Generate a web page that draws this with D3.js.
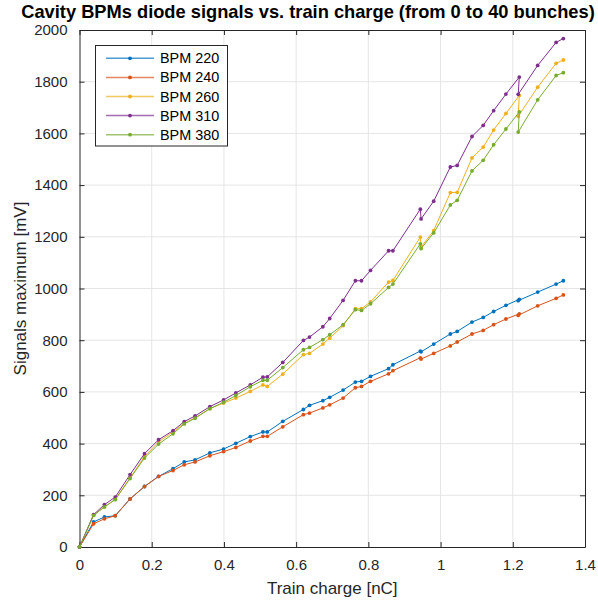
<!DOCTYPE html>
<html>
<head>
<meta charset="utf-8">
<script src="https://cdn.jsdelivr.net/npm/d3@7"></script>
<style>
  html, body { margin: 0; padding: 0; background: #fff; }
  svg { display: block; font-family: "Liberation Sans", Arial, Helvetica, sans-serif; }
</style>
</head>
<body>
<svg id="chart" width="598" height="603"></svg>
<script>
// ---- data ----
const charge = [0, 0.039, 0.069, 0.099, 0.140, 0.180, 0.219, 0.259, 0.290, 0.320, 0.361, 0.399, 0.433, 0.473, 0.508, 0.520, 0.563, 0.620, 0.637, 0.674, 0.693, 0.730, 0.764, 0.781, 0.806, 0.856, 0.868, 0.944, 0.946, 0.981, 1.027, 1.046, 1.087, 1.118, 1.147, 1.181, 1.218, 1.215, 1.269, 1.320, 1.340];
const bpm220 = [0, 97, 116, 121, 186, 234, 273, 303, 329, 337, 364, 379, 401, 427, 445, 445, 486, 532, 548, 566, 579, 607, 638, 641, 660, 690, 705, 758, 755, 785, 824, 834, 870, 888, 911, 935, 958, 953, 986, 1017, 1030];
const bpm240 = [0, 90, 109, 121, 186, 234, 273, 296, 318, 329, 353, 369, 385, 410, 428, 428, 465, 512, 518, 538, 550, 576, 616, 621, 641, 670, 682, 732, 727, 749, 778, 793, 824, 838, 860, 882, 902, 896, 933, 962, 975];
const bpm260 = [0, 125, 155, 185, 267, 350, 407, 445, 478, 500, 535, 557, 576, 602, 627, 621, 669, 744, 749, 785, 808, 856, 922, 922, 948, 1025, 1031, 1199, 1160, 1224, 1371, 1372, 1505, 1547, 1613, 1677, 1747, 1666, 1779, 1871, 1884];
const bpm310 = [0, 125, 164, 193, 280, 361, 415, 450, 485, 507, 543, 569, 596, 627, 657, 658, 714, 799, 812, 852, 884, 954, 1030, 1030, 1070, 1146, 1146, 1307, 1269, 1338, 1470, 1476, 1588, 1631, 1688, 1752, 1818, 1751, 1863, 1952, 1967];
const bpm380 = [0, 122, 155, 183, 265, 344, 398, 438, 476, 498, 535, 560, 586, 620, 645, 645, 694, 763, 772, 802, 821, 860, 918, 915, 941, 1004, 1017, 1173, 1154, 1215, 1323, 1341, 1455, 1496, 1556, 1617, 1683, 1605, 1730, 1824, 1835];
const seriesNames = ["BPM 220", "BPM 240", "BPM 260", "BPM 310", "BPM 380"];
const seriesColors = ["#0072BD", "#D95319", "#EDB120", "#7E2F8E", "#77AC30"];
const xTicks = [0, 0.2, 0.4, 0.6, 0.8, 1, 1.2, 1.4];
const yTicks = [0, 200, 400, 600, 800, 1000, 1200, 1400, 1600, 1800, 2000];
const titleText = "Cavity BPMs diode signals vs. train charge (from 0 to 40 bunches)";
const xLabel = "Train charge [nC]";
const yLabel = "Signals maximum [mV]";

const seriesValues = [bpm220, bpm240, bpm260, bpm310, bpm380];

// ---- layout ----
const L = 79.5, R = 585, T = 30, B = 547;
const svg = d3.select("#chart");
const x = d3.scaleLinear().domain([0, 1.4]).range([L, R]);
const y = d3.scaleLinear().domain([0, 2000]).range([B, T]);
const axisColor = "#262626";

// grid
const grid = svg.append("g");
grid.selectAll("line.gx").data(xTicks.slice(1, -1)).enter().append("line")
  .attr("x1", d => x(d)).attr("x2", d => x(d)).attr("y1", T).attr("y2", B)
  .attr("stroke", "#e5e5e5").attr("stroke-width", 1);
grid.selectAll("line.gy").data(yTicks.slice(1, -1)).enter().append("line")
  .attr("y1", d => y(d)).attr("y2", d => y(d)).attr("x1", L).attr("x2", R)
  .attr("stroke", "#e5e5e5").attr("stroke-width", 1);

// axes with inward ticks
function styleAxis(g) {
  g.selectAll("path.domain").attr("stroke", axisColor).attr("stroke-width", 1);
  g.selectAll(".tick line").attr("stroke", axisColor).attr("stroke-width", 1);
  g.selectAll(".tick text").attr("fill", axisColor).style("font-size", "15px");
}
const gx = svg.append("g").attr("transform", `translate(0,${B})`)
  .call(d3.axisBottom(x).tickValues(xTicks).tickSize(-5).tickSizeOuter(0).tickPadding(12).tickFormat(d3.format("~g")));
styleAxis(gx);
const gxTop = svg.append("g").attr("transform", `translate(0,${T})`)
  .call(d3.axisTop(x).tickValues(xTicks).tickSize(-5).tickSizeOuter(0).tickFormat(""));
styleAxis(gxTop);
const gy = svg.append("g").attr("transform", `translate(${L},0)`)
  .call(d3.axisLeft(y).tickValues(yTicks).tickSize(-5).tickSizeOuter(0).tickPadding(12).tickFormat(d3.format("d")));
styleAxis(gy);
const gyR = svg.append("g").attr("transform", `translate(${R},0)`)
  .call(d3.axisRight(y).tickValues(yTicks).tickSize(-5).tickSizeOuter(0).tickFormat(""));
styleAxis(gyR);

// series
const line = d3.line().x(d => x(d[0])).y(d => y(d[1]));
seriesValues.forEach((vals, i) => {
  const pts = charge.map((c, k) => [c, vals[k]]);
  const g = svg.append("g");
  g.append("path").datum(pts).attr("d", line)
    .attr("fill", "none").attr("stroke", seriesColors[i]).attr("stroke-width", 1);
  g.selectAll("circle").data(pts).enter().append("circle")
    .attr("cx", d => x(d[0])).attr("cy", d => y(d[1])).attr("r", 1.9)
    .attr("fill", seriesColors[i]);
});

// title
const title = svg.append("text").attr("x", 308).attr("y", 18)
  .attr("text-anchor", "middle").attr("font-weight", "bold")
  .attr("fill", "#000").style("font-size", "17px").text(titleText);
const tl = title.node().getComputedTextLength();
title.style("font-size", (17 * 574 / tl) + "px");

// axis labels
svg.append("text").attr("x", (L + R) / 2).attr("y", 594).attr("text-anchor", "middle")
  .attr("fill", axisColor).style("font-size", "17px").text(xLabel);
svg.append("text").attr("transform", `translate(26,${(T + B) / 2}) rotate(-90)`)
  .attr("text-anchor", "middle").attr("fill", axisColor).style("font-size", "17px").text(yLabel);

// legend
const lg = svg.append("g");
lg.append("rect").attr("x", 95.5).attr("y", 45.5).attr("width", 132).attr("height", 100.5)
  .attr("fill", "#fff").attr("stroke", axisColor).attr("stroke-width", 1);
seriesNames.forEach((n, i) => {
  const yy = 58.3 + i * 19.1;
  lg.append("line").attr("x1", 106).attr("x2", 154).attr("y1", yy).attr("y2", yy)
    .attr("stroke", seriesColors[i]).attr("stroke-width", 1.5).attr("stroke-opacity", 0.7);
  lg.append("circle").attr("cx", 130).attr("cy", yy).attr("r", 1.9).attr("fill", seriesColors[i]);
  lg.append("text").attr("x", 160).attr("y", yy).attr("dy", "0.35em")
    .attr("fill", "#000").style("font-size", "14.4px").text(n);
});
</script>
</body>
</html>
